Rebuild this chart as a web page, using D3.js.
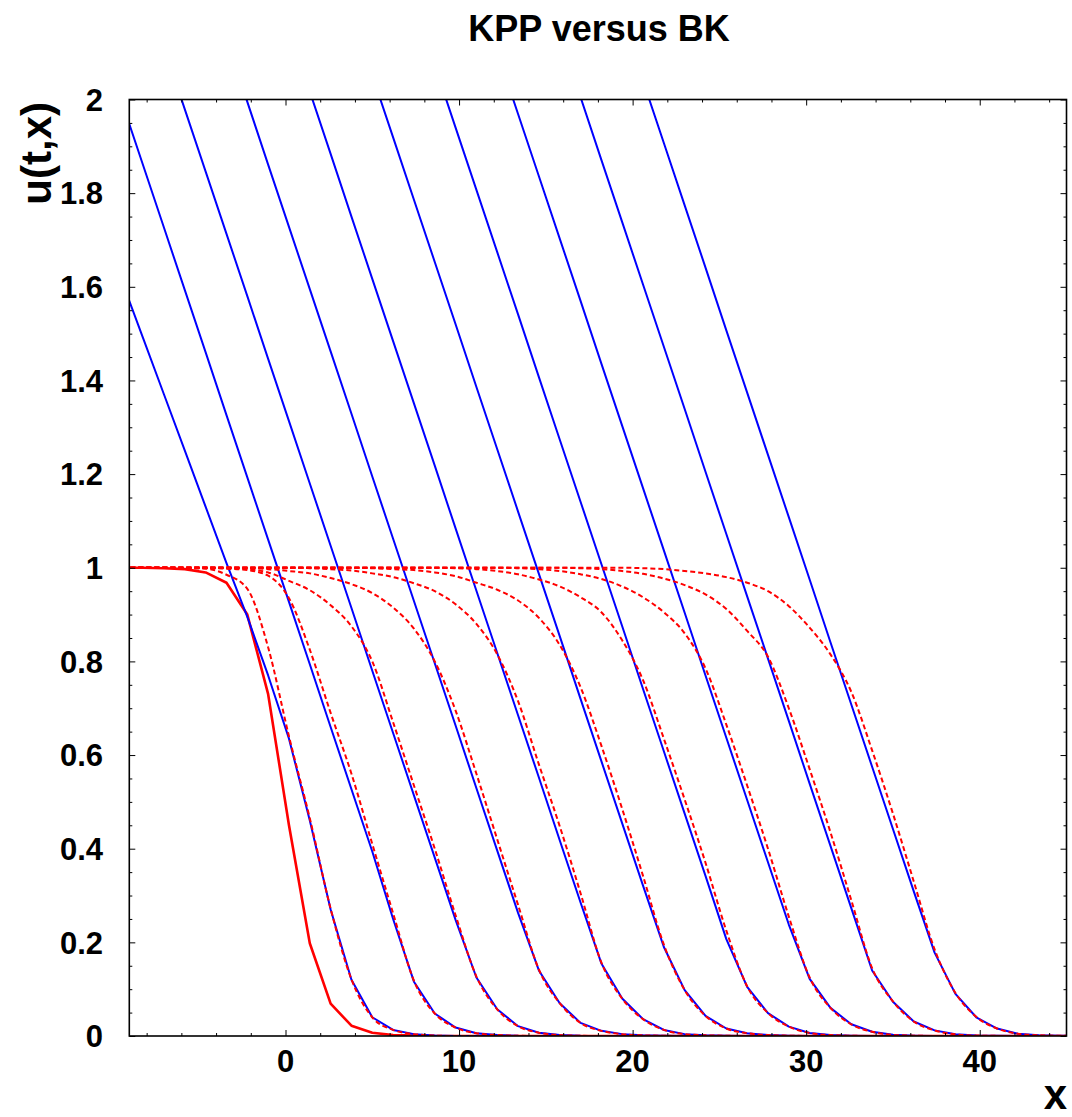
<!DOCTYPE html>
<html><head><meta charset="utf-8">
<script src="https://cdn.jsdelivr.net/npm/d3@7"></script>
<style>
body{margin:0;background:#fff}
svg{display:block}
text{font-family:"Liberation Sans",Arial,Helvetica,sans-serif;font-weight:bold;fill:#000}
</style>
</head><body>
<svg id="chart" width="1072" height="1117"></svg>
<script>
// ---------- data ----------
const title = "KPP versus BK";
const xLabel = "x";
const yLabel = "u(t,x)";
const xTickValues = [0, 10, 20, 30, 40];
const xTickLabels = ["0", "10", "20", "30", "40"];
const yTickValues = [0, 0.2, 0.4, 0.6, 0.8, 1, 1.2, 1.4, 1.6, 1.8, 2];
const yTickLabels = ["0", "0.2", "0.4", "0.6", "0.8", "1", "1.2", "1.4", "1.6", "1.8", "2"];

// sampling grid in x (47 nodes)
const xNodes = [-9.4,-8.2,-7.0,-5.8,-4.6,-3.4,-2.2,-1.0,0.2,1.4,2.6,3.8,5.0,6.2,7.4,8.6,9.8,11.0,12.2,13.4,14.6,15.8,17.0,18.2,19.4,20.6,21.8,23.0,24.2,25.4,26.6,27.8,29.0,30.2,31.4,32.6,33.8,35.0,36.2,37.4,38.6,39.8,41.0,42.2,43.4,44.6,45.8];

// initial condition (red solid)
const initial = [1.0,1.0,0.999,0.997,0.99,0.968,0.90,0.73,0.45,0.198,0.069,0.022,0.007,0.002,0.001,0,0,0,0,0,0,0,0,0,0,0,0,0,0,0,0,0,0,0,0,0,0,0,0,0,0,0,0,0,0,0,0];

// BK solutions (blue solid)
const bk1 = [1.61,1.49,1.37,1.25,1.13,1.01,0.895,0.77,0.635,0.46,0.27,0.12,0.04,0.013,0.004,0.001,0,0,0,0,0,0,0,0,0,0,0,0,0,0,0,0,0,0,0,0,0,0,0,0,0,0,0,0,0,0,0];
const bk2 = [1.992,1.859,1.726,1.593,1.46,1.326,1.193,1.06,0.927,0.794,0.66,0.527,0.394,0.25,0.116,0.048,0.018,0.006,0.002,0.0005,0,0,0,0,0,0,0,0,0,0,0,0,0,0,0,0,0,0,0,0,0,0,0,0,0,0,0];
const bk3 = [null,null,2.112,1.979,1.846,1.713,1.58,1.446,1.313,1.18,1.047,0.914,0.78,0.647,0.514,0.381,0.248,0.125,0.057,0.021,0.007,0.002,0.0005,0,0,0,0,0,0,0,0,0,0,0,0,0,0,0,0,0,0,0,0,0,0,0,0];
const bk4 = [null,null,null,null,null,2.128,1.995,1.861,1.728,1.595,1.462,1.329,1.195,1.062,0.929,0.796,0.663,0.529,0.396,0.263,0.14,0.07,0.028,0.011,0.004,0.0015,0.0005,0,0,0,0,0,0,0,0,0,0,0,0,0,0,0,0,0,0,0,0];
const bk5 = [null,null,null,null,null,null,null,null,null,2.017,1.884,1.75,1.617,1.484,1.351,1.218,1.084,0.951,0.818,0.685,0.552,0.418,0.285,0.155,0.08,0.036,0.013,0.004,0.0015,0.0005,0,0,0,0,0,0,0,0,0,0,0,0,0,0,0,0,0];
const bk6 = [null,null,null,null,null,null,null,null,null,null,null,null,2.052,1.919,1.786,1.653,1.52,1.386,1.253,1.12,0.987,0.854,0.72,0.587,0.454,0.321,0.19,0.098,0.043,0.016,0.006,0.002,0.0007,0,0,0,0,0,0,0,0,0,0,0,0,0,0];
const bk7 = [null,null,null,null,null,null,null,null,null,null,null,null,null,null,null,2.073,1.94,1.807,1.674,1.541,1.407,1.274,1.141,1.008,0.875,0.741,0.608,0.475,0.342,0.207,0.105,0.049,0.02,0.0065,0.002,0.0006,0,0,0,0,0,0,0,0,0,0,0];
const bk8 = [null,null,null,null,null,null,null,null,null,null,null,null,null,null,null,null,null,null,2.102,1.969,1.836,1.703,1.57,1.436,1.303,1.17,1.037,0.904,0.77,0.637,0.504,0.371,0.238,0.122,0.06,0.025,0.009,0.0025,0.0008,0,0,0,0,0,0,0,0];
const bk9 = [null,null,null,null,null,null,null,null,null,null,null,null,null,null,null,null,null,null,null,null,null,2.138,2.005,1.871,1.738,1.605,1.472,1.339,1.205,1.072,0.939,0.806,0.673,0.539,0.406,0.273,0.14,0.073,0.031,0.012,0.0036,0.001,0.0003,0,0,0,0];
const bk10 = [null,null,null,null,null,null,null,null,null,null,null,null,null,null,null,null,null,null,null,null,null,null,null,null,2.173,2.04,1.907,1.774,1.641,1.507,1.374,1.241,1.108,0.975,0.841,0.708,0.575,0.442,0.309,0.178,0.09,0.04,0.016,0.005,0.0015,0.0005,0];

// KPP solutions (red dashed)
const kpp1 = [1,1,1,0.999,0.998,0.985,0.955,0.83,0.64,0.465,0.272,0.121,0.04,0.013,0.004,0.001,0,0,0,0,0,0,0,0,0,0,0,0,0,0,0,0,0,0,0,0,0,0,0,0,0,0,0,0,0,0,0];
const kpp2 = [1,1,1,1,1,0.998,0.995,0.983,0.935,0.825,0.69,0.56,0.41,0.262,0.118,0.048,0.018,0.006,0.002,0.0005,0,0,0,0,0,0,0,0,0,0,0,0,0,0,0,0,0,0,0,0,0,0,0,0,0,0,0];
const kpp3 = [1,1,1,1,1,0.999,0.997,0.99,0.972,0.952,0.92,0.875,0.80,0.67,0.535,0.40,0.258,0.127,0.057,0.021,0.007,0.002,0.0005,0,0,0,0,0,0,0,0,0,0,0,0,0,0,0,0,0,0,0,0,0,0,0,0];
const kpp4 = [1,1,1,1,1,1,0.999,0.997,0.993,0.988,0.978,0.965,0.946,0.915,0.87,0.80,0.695,0.56,0.42,0.28,0.142,0.07,0.028,0.011,0.004,0.0015,0.0005,0,0,0,0,0,0,0,0,0,0,0,0,0,0,0,0,0,0,0,0];
const kpp5 = [1,1,1,1,1,1,1,1,1,0.999,0.997,0.994,0.988,0.98,0.967,0.95,0.922,0.88,0.815,0.715,0.58,0.448,0.305,0.157,0.08,0.036,0.013,0.004,0.0015,0.0005,0,0,0,0,0,0,0,0,0,0,0,0,0,0,0,0,0];
const kpp6 = [1,1,1,1,1,1,1,1,1,1,1,1,0.999,0.997,0.995,0.99,0.982,0.968,0.953,0.93,0.893,0.835,0.745,0.62,0.485,0.342,0.195,0.098,0.043,0.016,0.006,0.002,0.0007,0,0,0,0,0,0,0,0,0,0,0,0,0,0];
const kpp7 = [1,1,1,1,1,1,1,1,1,1,1,1,1,1,1,1,0.999,0.997,0.993,0.986,0.975,0.96,0.937,0.905,0.845,0.76,0.635,0.505,0.37,0.225,0.106,0.049,0.02,0.0065,0.002,0.0006,0,0,0,0,0,0,0,0,0,0,0];
const kpp8 = [1,1,1,1,1,1,1,1,1,1,1,1,1,1,1,1,1,1,1,0.999,0.997,0.993,0.986,0.976,0.96,0.937,0.905,0.86,0.785,0.665,0.535,0.40,0.255,0.125,0.06,0.025,0.009,0.0025,0.0008,0,0,0,0,0,0,0,0];
const kpp9 = [1,1,1,1,1,1,1,1,1,1,1,1,1,1,1,1,1,1,1,1,1,1,0.999,0.997,0.993,0.987,0.977,0.963,0.943,0.912,0.865,0.81,0.70,0.57,0.435,0.29,0.145,0.074,0.031,0.012,0.0036,0.001,0.0003,0,0,0,0];
const kpp10 = [1,1,1,1,1,1,1,1,1,1,1,1,1,1,1,1,1,1,1,1,1,1,1,1,1,0.999,0.997,0.993,0.988,0.98,0.968,0.95,0.918,0.872,0.815,0.735,0.61,0.475,0.33,0.185,0.092,0.041,0.016,0.005,0.0015,0.0005,0];

const bkSeries = [bk1,bk2,bk3,bk4,bk5,bk6,bk7,bk8,bk9,bk10];
const kppSeries = [kpp1,kpp2,kpp3,kpp4,kpp5,kpp6,kpp7,kpp8,kpp9,kpp10];

// ---------- layout ----------
const M = {left: 129.3, right: 1066.5, top: 99.5, bottom: 1036};
const svg = d3.select("#chart");

const x = d3.scaleLinear().domain([-9, 45]).range([M.left, M.right]);
const y = d3.scaleLinear().domain([0, 2]).range([M.bottom, M.top]);

svg.append("defs").append("clipPath").attr("id", "clip")
  .append("rect").attr("x", M.left).attr("y", M.top)
  .attr("width", M.right - M.left).attr("height", M.bottom - M.top);

const toPts = arr => arr.map((v, i) => ({x: xNodes[i], y: v}));
const defined = d => d.y !== null && d.y !== undefined && d.x !== undefined;
const line = d3.line().defined(defined).x(d => x(d.x)).y(d => y(d.y));
const smoothLine = d3.line().defined(defined).curve(d3.curveMonotoneX)
  .x(d => x(d.x)).y(d => y(d.y));

const plot = svg.append("g").attr("clip-path", "url(#clip)");

plot.append("path").datum(toPts(initial))
  .attr("d", line).attr("fill", "none")
  .attr("stroke", "#ff0000").attr("stroke-width", 2.6).attr("stroke-linejoin", "round");

bkSeries.forEach(s => {
  plot.append("path").datum(toPts(s))
    .attr("d", line).attr("fill", "none")
    .attr("stroke", "#0000ff").attr("stroke-width", 2).attr("stroke-linejoin", "round");
});

kppSeries.forEach(s => {
  plot.append("path").datum(toPts(s))
    .attr("d", smoothLine).attr("fill", "none")
    .attr("stroke", "#ff0000").attr("stroke-width", 2)
    .attr("stroke-dasharray", "5,3");
});

// ---------- axes (ticks inward on all 4 sides) ----------
const xMinor = d3.range(-8, 45, 2).filter(v => v % 10 !== 0);
const yMinor = d3.range(0, 41).map(i => i * 0.05).filter((v, i) => i % 4 !== 0);
const majorLen = 6, minorLen = 3;

function addAxis(gen, transform, vals, len) {
  const g = svg.append("g").attr("transform", transform)
    .call(gen.tickValues(vals).tickSizeInner(-len).tickSizeOuter(0).tickFormat(() => ""));
  g.select(".domain").remove();
  g.selectAll(".tick line").attr("stroke", "#000").attr("stroke-width", 1);
  return g;
}
addAxis(d3.axisBottom(x), `translate(0,${M.bottom})`, xMinor, minorLen);
addAxis(d3.axisBottom(x), `translate(0,${M.bottom})`, xTickValues, majorLen);
addAxis(d3.axisTop(x), `translate(0,${M.top})`, xMinor, minorLen);
addAxis(d3.axisTop(x), `translate(0,${M.top})`, xTickValues, majorLen);
addAxis(d3.axisLeft(y), `translate(${M.left},0)`, yMinor, minorLen);
addAxis(d3.axisLeft(y), `translate(${M.left},0)`, yTickValues, majorLen);
addAxis(d3.axisRight(y), `translate(${M.right},0)`, yMinor, minorLen);
addAxis(d3.axisRight(y), `translate(${M.right},0)`, yTickValues, majorLen);

// frame
svg.append("rect").attr("x", M.left).attr("y", M.top)
  .attr("width", M.right - M.left).attr("height", M.bottom - M.top)
  .attr("fill", "none").attr("stroke", "#000").attr("stroke-width", 1.6);

// tick labels
svg.append("g").selectAll("text").data(xTickValues).join("text")
  .attr("x", d => x(d)).attr("y", 1072)
  .attr("text-anchor", "middle").attr("font-size", 31)
  .text((d, i) => xTickLabels[i]);

svg.append("g").selectAll("text").data(yTickValues).join("text")
  .attr("x", 103).attr("y", d => y(d))
  .attr("dy", "0.36em")
  .attr("text-anchor", "end").attr("font-size", 31)
  .text((d, i) => yTickLabels[i]);

// titles
svg.append("text").attr("x", 599).attr("y", 41)
  .attr("text-anchor", "middle").attr("font-size", 36).text(title);

svg.append("text").attr("transform", "translate(51,102) rotate(-90)")
  .attr("text-anchor", "end").attr("font-size", 42).text(yLabel);

svg.append("text").attr("x", 1067).attr("y", 1109)
  .attr("text-anchor", "end").attr("font-size", 42).text(xLabel);
</script>
</body></html>
